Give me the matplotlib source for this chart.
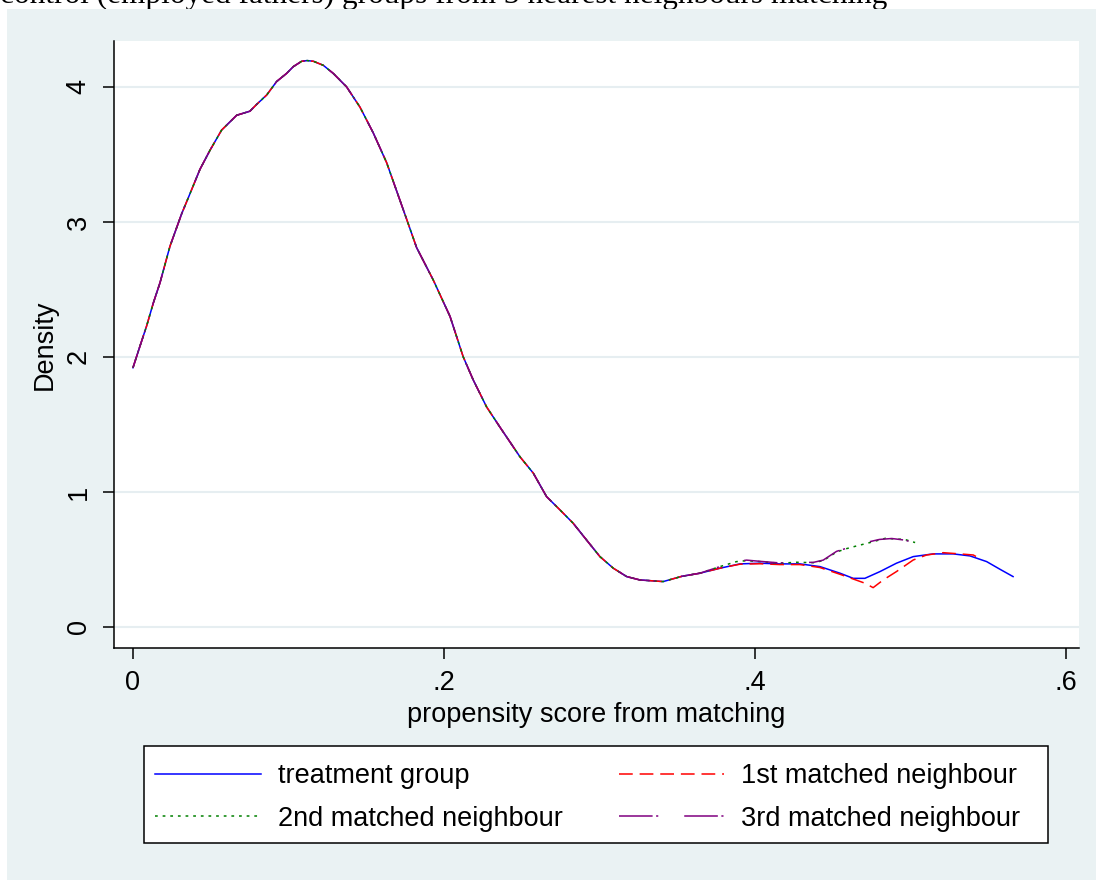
import numpy as np
import matplotlib
matplotlib.use('Agg')
import matplotlib.pyplot as plt
from matplotlib.patches import Rectangle

# shared part of the four density curves (they coincide up to ~0.365)
score_common = [0.000, 0.0045, 0.0088, 0.0131, 0.0174, 0.0238, 0.0313, 0.0367, 0.0431, 0.0495,
                0.0570, 0.0667, 0.0752, 0.0795, 0.0860, 0.0924, 0.0988, 0.1031, 0.1085, 0.1120,
                0.1160, 0.1224, 0.1288, 0.1374, 0.1460, 0.1545, 0.1631, 0.1717, 0.1760, 0.1824,
                0.1931, 0.2039, 0.2124, 0.2188, 0.2274, 0.2360, 0.2489, 0.2574, 0.2660, 0.2746,
                0.2831, 0.2917, 0.3003, 0.3089, 0.3175, 0.3260, 0.3410, 0.3530, 0.3646]
density_common = [1.92, 2.08, 2.23, 2.40, 2.55, 2.82, 3.06, 3.21, 3.39, 3.53,
                  3.68, 3.79, 3.82, 3.87, 3.94, 4.04, 4.10, 4.15, 4.19, 4.195,
                  4.19, 4.16, 4.10, 4.00, 3.85, 3.66, 3.44, 3.16, 3.02, 2.81,
                  2.57, 2.30, 2.00, 1.83, 1.63, 1.48, 1.26, 1.14, 0.965, 0.867,
                  0.768, 0.644, 0.521, 0.435, 0.373, 0.348, 0.336, 0.375, 0.398]

treat_x = [0.3775, 0.3904, 0.4032, 0.4160, 0.4289, 0.4418, 0.4547, 0.4632, 0.4707, 0.4804,
           0.4910, 0.5018, 0.5146, 0.5275, 0.5383, 0.5490, 0.5576, 0.5660]
treat_y = [0.435, 0.467, 0.472, 0.467, 0.467, 0.447, 0.398, 0.360, 0.360, 0.410,
           0.472, 0.521, 0.541, 0.541, 0.526, 0.484, 0.427, 0.373]

nb1_x = [0.3775, 0.3904, 0.4032, 0.4160, 0.4289, 0.4418, 0.4547, 0.4632, 0.4707, 0.4760,
         0.4825, 0.4910, 0.5018, 0.5104, 0.5211, 0.5318, 0.5404, 0.5440]
nb1_y = [0.435, 0.465, 0.468, 0.462, 0.462, 0.440, 0.390, 0.355, 0.324, 0.291,
         0.348, 0.410, 0.496, 0.533, 0.550, 0.541, 0.533, 0.510]

nb2_x = [0.3775, 0.3882, 0.3946, 0.4032, 0.4160, 0.4268, 0.4375, 0.4439, 0.4525, 0.4589,
         0.4654, 0.4740, 0.4840, 0.4904, 0.4958, 0.5030]
nb2_y = [0.447, 0.484, 0.491, 0.484, 0.472, 0.479, 0.476, 0.491, 0.555, 0.580,
         0.600, 0.625, 0.657, 0.650, 0.650, 0.625]

nb3_x = [0.3775, 0.3882, 0.3946, 0.4032, 0.4160, 0.4268, 0.4375, 0.4439, 0.4525, 0.4590,
         0.4654, 0.4740, 0.4800, 0.4880, 0.4958, 0.5020, 0.5086]
nb3_y = [0.447, 0.484, 0.495, 0.486, 0.474, 0.479, 0.478, 0.495, 0.560, 0.583,
         0.615, 0.632, 0.648, 0.655, 0.644, 0.626, 0.620]

labels = ['treatment group', '1st matched neighbour', '2nd matched neighbour', '3rd matched neighbour']
colors = ['#0000FF', '#FF0000', '#008000', '#800080']
styles = ['-', (0, (9, 4.5)), (0, (1.8, 3.2)), (0, (22, 2.3, 1.4, 17))]

xticks = [0, 0.2, 0.4, 0.6]
xtick_labels = ['0', '.2', '.4', '.6']
yticks = [0, 1, 2, 3, 4]

W, H = 1096, 880
bg = '#EAF2F3'
plt.rcParams['font.family'] = ['Liberation Sans', 'DejaVu Sans']
fs = 19.5

fig = plt.figure(figsize=(W / 100, H / 100), dpi=100)
fig.patch.set_facecolor('white')
fig.add_artist(Rectangle((7 / W, 0), (W - 7) / W, (H - 9) / H, transform=fig.transFigure,
                         facecolor=bg, edgecolor='none', zorder=-1))
# title sits mostly above the top edge, as in the source image
fig.text(0, 1 - 3 / H, 'control (employed fathers) groups from 3 nearest neighbours matching',
         family='Liberation Serif', fontsize=22.5, va='baseline', ha='left', zorder=-2)

ax = fig.add_axes([114 / W, 1 - 648 / H, (1079 - 114) / W, (648 - 41) / H])
ax.set_facecolor('white')

series = [(treat_x, treat_y), (nb1_x, nb1_y), (nb2_x, nb2_y), (nb3_x, nb3_y)]
handles = []
for (tx, ty), lab, c, ls in zip(series, labels, colors, styles):
    x = np.concatenate([score_common, tx])
    y = np.concatenate([density_common, ty])
    h, = ax.plot(x, y, color=c, linestyle=ls, lw=1.1, label=lab)
    handles.append(h)

ax.set_xlim(-0.0122, 0.6084)
ax.set_ylim(-0.156, 4.34)
ax.set_xticks(xticks)
ax.set_xticklabels(xtick_labels)
ax.set_yticks(yticks)
ax.set_yticklabels([str(t) for t in yticks], rotation=90, va='center')
ax.yaxis.grid(True, color='#E6EEF1', lw=1.5)
ax.set_axisbelow(True)
for s in ['top', 'right']:
    ax.spines[s].set_visible(False)
for s in ['left', 'bottom']:
    ax.spines[s].set_color('black')
    ax.spines[s].set_linewidth(1.1)
ax.tick_params(direction='out', length=8, width=1.1, labelsize=fs, pad=8, colors='black')
ax.set_xlabel('propensity score from matching', fontsize=fs, labelpad=4)
ax.set_ylabel('Density', fontsize=fs, labelpad=6)

fig.add_artist(Rectangle((144 / W, 1 - 843 / H), (1048 - 144) / W, (843 - 746) / H,
                         transform=fig.transFigure, facecolor='white', edgecolor='black',
                         lw=1.1, zorder=1))
# legend fills column by column, so order gives rows: treatment/1st, 2nd/3rd
order = [0, 2, 1, 3]
fig.legend(handles=[handles[i] for i in order], labels=[labels[i] for i in order],
           ncol=2, frameon=False, loc='upper left', bbox_to_anchor=(155 / W, 1 - 763 / H),
           borderpad=0, borderaxespad=0, fontsize=fs, handlelength=3.9, handletextpad=0.63,
           columnspacing=2.07, labelspacing=0.62)

fig.savefig('out.png', dpi=100)
